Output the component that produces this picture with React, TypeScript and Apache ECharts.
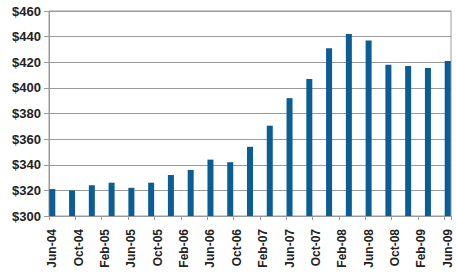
import React, { useEffect, useRef } from "react";
import * as echarts from "echarts";

const MONTHS = ["Jan", "Feb", "Mar", "Apr", "May", "Jun", "Jul", "Aug", "Sep", "Oct", "Nov", "Dec"];
const START = { month: 5, year: 2004 }; // Jun-04
const MONTH_COUNT = 61; // Jun-04 .. Jun-09

const quarterDates = [
  "Jun-04", "Sep-04", "Dec-04", "Mar-05", "Jun-05", "Sep-05", "Dec-05",
  "Mar-06", "Jun-06", "Sep-06", "Dec-06", "Mar-07", "Jun-07", "Sep-07",
  "Dec-07", "Mar-08", "Jun-08", "Sep-08", "Dec-08", "Mar-09", "Jun-09",
];
const quarterValues = [
  321, 320, 324, 326, 322, 326, 332, 336, 344, 342, 354, 370.5, 392, 407,
  431, 442, 437, 418, 417, 415.5, 421,
];
const tickLabels = [
  "Jun-04", "Oct-04", "Feb-05", "Jun-05", "Oct-05", "Feb-06", "Jun-06", "Oct-06",
  "Feb-07", "Jun-07", "Oct-07", "Feb-08", "Jun-08", "Oct-08", "Feb-09", "Jun-09",
];

function monthLabel(i: number) {
  const m = (START.month + i) % 12;
  const y = START.year + Math.floor((START.month + i) / 12);
  return MONTHS[m] + "-" + String(y % 100).padStart(2, "0");
}

export default function App() {
  const ref = useRef<HTMLDivElement>(null);
  useEffect(() => {
    if (!ref.current) return;
    const chart = echarts.init(ref.current, null, { renderer: "svg" });
    const categories = Array.from({ length: MONTH_COUNT }, (_, i) => monthLabel(i));
    const data = categories.map((c) => {
      const k = quarterDates.indexOf(c);
      return k >= 0 ? quarterValues[k] : null;
    });
    const font = "'Liberation Sans', Arial, sans-serif";
    chart.setOption({
      animation: false,
      grid: {
        left: 49,
        right: 5,
        top: 11,
        bottom: 63,
        show: true,
        borderColor: "#9a9a9a",
        borderWidth: 1,
      },
      xAxis: {
        type: "category",
        data: categories,
        boundaryGap: true,
        axisLine: { lineStyle: { color: "#9a9a9a", width: 1 } },
        axisTick: {
          show: true,
          length: 4,
          interval: 3,
          lineStyle: { color: "#9a9a9a" },
        },
        axisLabel: {
          rotate: 90,
          margin: 13,
          interval: (idx: number, val: string) => tickLabels.indexOf(val) >= 0,
          fontFamily: font,
          fontWeight: "bold",
          fontSize: 12,
          color: "#222",
        },
      },
      yAxis: {
        type: "value",
        min: 300,
        max: 460,
        interval: 20,
        axisLine: { show: true, lineStyle: { color: "#9a9a9a", width: 1 } },
        axisTick: { show: true, length: 5, lineStyle: { color: "#9a9a9a" } },
        splitLine: { lineStyle: { color: "#9a9a9a", width: 1 } },
        axisLabel: {
          formatter: (v: number) => "$" + v,
          margin: 8,
          fontFamily: font,
          fontWeight: "bold",
          fontSize: 13,
          color: "#222",
        },
      },
      series: [
        {
          type: "bar",
          data,
          barWidth: 6,
          barGap: "-100%",
          itemStyle: { color: "#0a5d95" },
        },
      ],
    });
    return () => chart.dispose();
  }, []);
  return (
    <div
      ref={ref}
      style={{ position: "absolute", left: 0, top: 0, width: 456, height: 279, background: "#fff" }}
    />
  );
}
